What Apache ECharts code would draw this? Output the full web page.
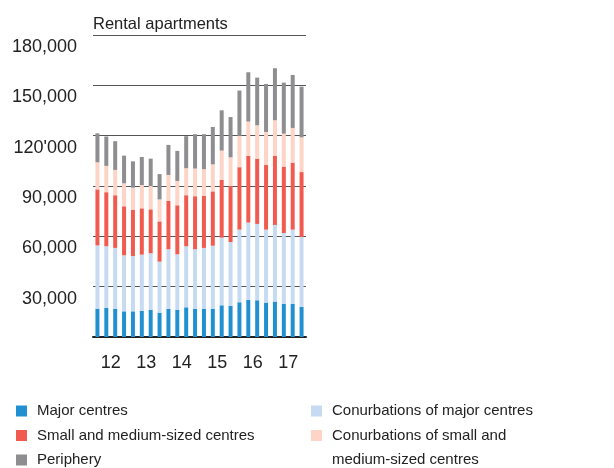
<!DOCTYPE html>
<html>
<head>
<meta charset="utf-8">
<script src="https://cdn.jsdelivr.net/npm/echarts@6/dist/echarts.min.js"></script>
<style>
  html, body { margin: 0; padding: 0; background: #fff; }
  #chart { width: 614px; height: 468px; }
</style>
</head>
<body>
<div id="chart"></div>
<script>
// quarterly values, 2012 Q1 .. 2017 Q4
const quarters = [
  '12 Q1', '12 Q2', '12 Q3', '12 Q4', '13 Q1', '13 Q2', '13 Q3', '13 Q4',
  '14 Q1', '14 Q2', '14 Q3', '14 Q4', '15 Q1', '15 Q2', '15 Q3', '15 Q4',
  '16 Q1', '16 Q2', '16 Q3', '16 Q4', '17 Q1', '17 Q2', '17 Q3', '17 Q4'
]
const years = ['12', '13', '14', '15', '16', '17']
const yTickLabels = ['', '30,000', '60,000', '90,000', '120\'000', '150,000', '180,000']

const majorCentres = [16900, 17300, 16900, 15300, 15300, 15500, 16100, 14500, 16700, 16100, 17700, 16700,
  16900, 16900, 18900, 18500, 20700, 22100, 21900, 20500, 21100, 19700, 19700, 17900]
const conurbMajor = [37700, 36800, 36200, 33400, 33000, 33600, 33800, 30400, 35600, 33200, 36400, 35600,
  36200, 37500, 40300, 38100, 43300, 46100, 45500, 43500, 45700, 42300, 44300, 41700]
const smallMedium = [33400, 32200, 31400, 29200, 27600, 27600, 26200, 24000, 28800, 29200, 30400, 31600,
  31000, 32400, 34400, 33400, 37200, 39700, 38900, 38500, 41100, 39500, 39900, 38700]
const conurbSmall = [16100, 15700, 15100, 13700, 13100, 13900, 13900, 13100, 15500, 14500, 16100, 16500,
  15900, 16100, 17500, 17100, 18700, 20500, 19900, 19700, 21300, 19700, 20700, 20700]
const periphery = [17300, 17500, 17100, 16500, 15700, 16700, 16300, 15100, 17900, 17900, 19100, 20500,
  20900, 22300, 24000, 24000, 27000, 29400, 28400, 28600, 31000, 30400, 31600, 30200]

const numFont = 'Liberation Sans, Arial, sans-serif'
const textFont = 'Liberation Sans, Arial, sans-serif'
const legendSize = 15
const rowH = 24.5
const longName = 'Conurbations of small and medium-sized centres'

function barSeries(name, data, color) {
  return {
    name: name,
    type: 'bar',
    stack: 'total',
    data: data,
    barWidth: 4,
    itemStyle: { color: color },
    emphasis: { disabled: true }
  }
}

function legendBox(names, left) {
  return {
    orient: 'vertical',
    left: left,
    top: 398.75,
    height: 100,
    padding: 0,
    itemGap: 0,
    itemWidth: 11,
    itemHeight: 11,
    icon: 'rect',
    selectedMode: false,
    data: names,
    // long label wraps: first line here, second line as graphic text below
    formatter: function (name) {
      return name === longName ? 'Conurbations of small and' : name
    },
    textStyle: {
      fontFamily: textFont,
      fontSize: legendSize,
      color: '#222',
      lineHeight: rowH,
      padding: [0, 0, 0, 5]
    }
  }
}

const chart = echarts.init(document.getElementById('chart'))
chart.setOption({
  animation: false,
  title: {
    text: 'Rental apartments',
    left: 93,
    top: 16,
    padding: 0,
    textStyle: { fontFamily: textFont, fontSize: 16.5, fontWeight: 'normal', color: '#222' }
  },
  legend: [
    legendBox(['Major centres', 'Small and medium-sized centres', 'Periphery'], 16),
    legendBox(['Conurbations of major centres', longName], 311)
  ],
  graphic: [{
    type: 'text',
    left: 332,
    top: 460 - rowH / 2,
    style: {
      text: 'medium-sized centres',
      fontFamily: textFont,
      fontSize: legendSize,
      lineHeight: rowH,
      fill: '#222'
    }
  }],
  grid: { left: 93, right: 308, top: 35, bottom: 131 },
  xAxis: [
    {
      type: 'category',
      data: quarters,
      axisLine: { show: false },
      axisTick: { show: false },
      axisLabel: { show: false }
    },
    {
      type: 'category',
      data: years,
      position: 'bottom',
      axisLine: { lineStyle: { color: '#222', width: 2 } },
      axisTick: { length: 7, lineStyle: { color: '#222', width: 2 } },
      axisLabel: { fontFamily: numFont, fontSize: 18, color: '#222', margin: 17 }
    }
  ],
  yAxis: {
    type: 'value',
    min: 0,
    max: 180000,
    interval: 30000,
    axisLine: { show: false },
    axisTick: { show: false },
    splitLine: { lineStyle: { color: '#555', width: 1 } },
    axisLabel: {
      fontFamily: numFont,
      fontSize: 18,
      color: '#222',
      margin: 16,
      verticalAlign: 'top',
      padding: [3, 0, 0, 0],
      formatter: function (v) { return yTickLabels[Math.round(v / 30000)] }
    }
  },
  series: [
    barSeries('Major centres', majorCentres, '#2090d0'),
    barSeries('Conurbations of major centres', conurbMajor, '#c6dbf1'),
    barSeries('Small and medium-sized centres', smallMedium, '#f15b4f'),
    barSeries(longName, conurbSmall, '#fdd4c6'),
    barSeries('Periphery', periphery, '#8e8e90')
  ]
})
</script>
</body>
</html>
